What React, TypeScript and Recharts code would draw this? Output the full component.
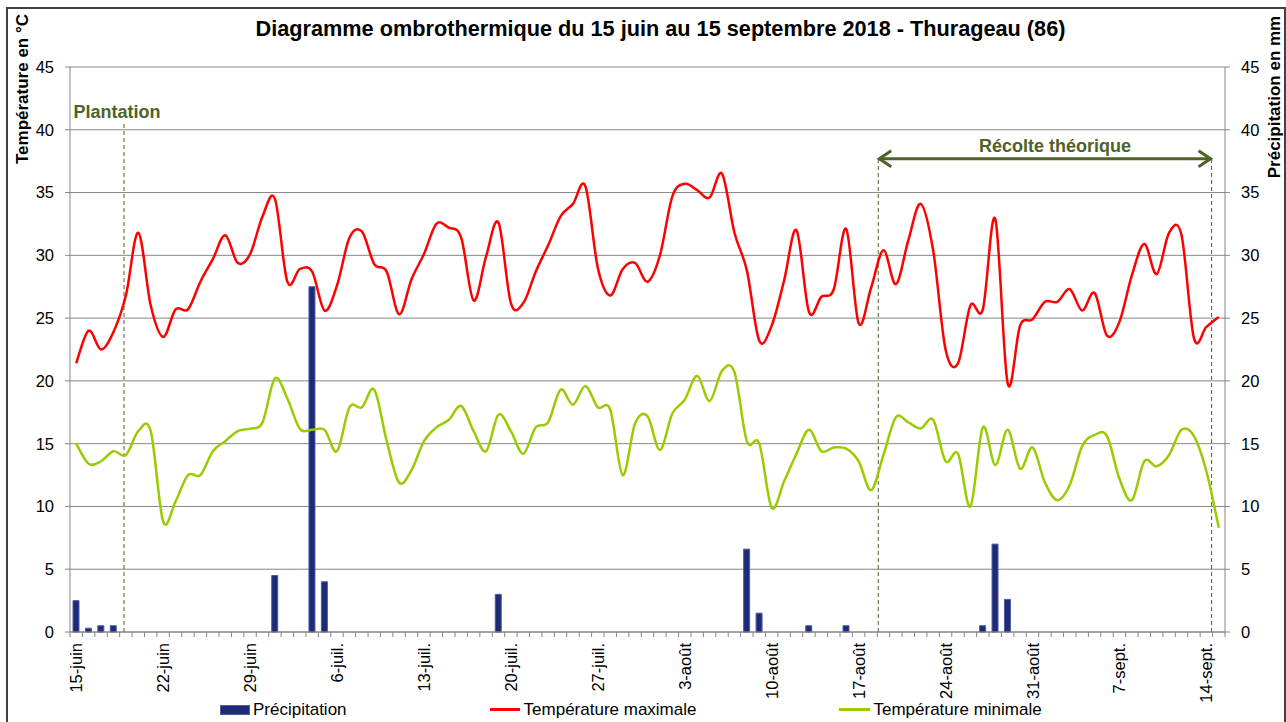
import React from "react";
import {
  ComposedChart,
  Bar,
  Line,
  XAxis,
  YAxis,
  CartesianGrid,
  Legend,
  ReferenceLine,
} from "recharts";

const FONT = "'Liberation Sans', Arial, sans-serif";
const GRID = "#868686";
const OLIVE = "#4F6228";
const RED = "#FF0000";
const GREEN = "#99CC00";
const BAR_FILL = "#1D2B74";
const BAR_EDGE = "#4E5BAA";

// days from 15 June to 15 September 2018
const months: [string, number, number][] = [
  ["juin", 15, 30],
  ["juil.", 1, 31],
  ["août", 1, 31],
  ["sept.", 1, 15],
];
const days: string[] = months.flatMap(([m, a, b]) =>
  Array.from({ length: b - a + 1 }, (_, k) => `${a + k}-${m}`)
);

// precipitation, mm
const precip = [
  2.5, 0.3, 0.5, 0.5, 0, 0, 0, 0, 0, 0, 0, 0, 0, 0, 0, 0, 4.5, 0, 0, 27.5,
  4.0, 0, 0, 0, 0, 0, 0, 0, 0, 0, 0, 0, 0, 0, 3.0, 0, 0, 0, 0, 0,
  0, 0, 0, 0, 0, 0, 0, 0, 0, 0, 0, 0, 0, 0, 6.6, 1.5, 0, 0, 0, 0.5,
  0, 0, 0.5, 0, 0, 0, 0, 0, 0, 0, 0, 0, 0, 0.5, 7.0, 2.6, 0, 0, 0, 0,
  0, 0, 0, 0, 0, 0, 0, 0, 0, 0, 0, 0, 0,
];

// maximum temperature, °C
const tmax = [
  21.4, 24.0, 22.5, 23.9, 26.8, 31.8, 26.0, 23.5, 25.7, 25.7,
  27.9, 29.7, 31.6, 29.4, 30.1, 33.1, 34.5, 27.9, 28.9, 28.7,
  25.6, 27.6, 31.4, 31.9, 29.3, 28.7, 25.3, 28.1, 30.1, 32.5,
  32.2, 31.4, 26.4, 29.9, 32.6, 26.2, 26.2, 28.7, 30.8, 33.1,
  34.1, 35.5, 29.0, 26.8, 28.9, 29.4, 27.9, 30.0, 34.7, 35.7,
  35.2, 34.6, 36.5, 31.8, 28.8, 23.2, 24.4, 28.0, 32.0, 25.5,
  26.7, 27.3, 32.1, 24.6, 27.4, 30.4, 27.7, 31.2, 34.1, 30.4,
  22.5, 21.4, 26.0, 25.7, 32.9, 19.8, 24.4, 24.9, 26.3, 26.3,
  27.3, 25.6, 27.0, 23.6, 24.7, 28.4, 30.9, 28.5, 31.8, 31.6,
  23.4, 24.3, 25.1,
];

// minimum temperature, °C
const tmin = [
  15.0, 13.4, 13.6, 14.4, 14.1, 16.0, 16.0, 8.8, 10.4, 12.5,
  12.5, 14.4, 15.2, 16.0, 16.2, 16.7, 20.2, 18.6, 16.2, 16.1,
  16.1, 14.4, 17.9, 17.9, 19.3, 15.2, 11.9, 12.9, 15.2, 16.3,
  16.9, 18.0, 16.0, 14.4, 17.3, 16.0, 14.2, 16.3, 16.7, 19.3,
  18.1, 19.6, 17.9, 17.7, 12.5, 16.6, 17.2, 14.5, 17.4, 18.5,
  20.4, 18.4, 20.8, 20.7, 15.2, 15.0, 9.9, 12.0, 14.2, 16.1,
  14.4, 14.7, 14.6, 13.6, 11.3, 14.1, 17.1, 16.7, 16.2, 16.9,
  13.6, 14.2, 10.0, 16.3, 13.3, 16.1, 13.0, 14.7, 11.9, 10.5,
  11.7, 14.8, 15.7, 15.6, 12.2, 10.5, 13.6, 13.2, 14.1, 16.1,
  15.6, 12.8, 8.3,
];

const yTicks = [0, 5, 10, 15, 20, 25, 30, 35, 40, 45];

// annotation positions (day index on the hidden numeric axis, °C on left axis)
const PLANTATION_X = 3.85;
const PLANTATION_TOP = 40.6;
const HARVEST_START = 64.58;
const HARVEST_END = 91.42;
const HARVEST_Y = 37.7;

const data = days.map((day, i) => ({
  idx: i,
  day,
  precip: precip[i],
  tmax: tmax[i],
  tmin: tmin[i],
}));

// Excel-like smoothed line (Bezier through every point)
const excelSmooth = (context: any) => {
  let pts: [number, number][] = [];
  return {
    areaStart() {},
    areaEnd() {},
    lineStart() {
      pts = [];
    },
    point(x: number, y: number) {
      pts.push([+x, +y]);
    },
    lineEnd() {
      const n = pts.length;
      if (!n) return;
      context.moveTo(pts[0][0], pts[0][1]);
      for (let i = 0; i < n - 1; i++) {
        const p0 = pts[Math.max(i - 1, 0)];
        const p1 = pts[i];
        const p2 = pts[i + 1];
        const p3 = pts[Math.min(i + 2, n - 1)];
        context.bezierCurveTo(
          p1[0] + (p2[0] - p0[0]) / 6,
          p1[1] + (p2[1] - p0[1]) / 6,
          p2[0] - (p3[0] - p1[0]) / 6,
          p2[1] - (p3[1] - p1[1]) / 6,
          p2[0],
          p2[1]
        );
      }
    },
  };
};

const PLOT_W = 1155;
const BAND_HALF = PLOT_W / days.length / 2;

const DayTick = (props: any) => {
  const { x, y, payload, index } = props;
  const half = payload?.offset || BAND_HALF;
  const axisY = y - 11;
  return (
    <g>
      <line x1={x - half} x2={x - half} y1={axisY} y2={axisY + 5} stroke={GRID} />
      {index === days.length - 1 && (
        <line x1={x + half} x2={x + half} y1={axisY} y2={axisY + 5} stroke={GRID} />
      )}
      {index % 7 === 0 && (
        <text
          x={x}
          y={y}
          transform={`rotate(-90 ${x} ${y})`}
          textAnchor="end"
          dominantBaseline="central"
          fontFamily={FONT}
          fontSize={16.5}
          fill="#000"
        >
          {payload.value}
        </text>
      )}
    </g>
  );
};

const PlantationShape = (p: any) => (
  <g>
    <line x1={p.x1} y1={p.y1} x2={p.x2} y2={p.y2} stroke={OLIVE} strokeWidth={1} strokeDasharray="4 3" />
    <text
      x={p.x1 - 7}
      y={Math.min(p.y1, p.y2) - 4}
      textAnchor="middle"
      fontFamily={FONT}
      fontWeight="bold"
      fontSize={18}
      fill={OLIVE}
    >
      Plantation
    </text>
  </g>
);

const DashedShape = (p: any) => (
  <line x1={p.x1} y1={p.y1} x2={p.x2} y2={p.y2} stroke={OLIVE} strokeWidth={1} strokeDasharray="4 3" />
);

const ArrowShape = (p: any) => {
  const y = p.y1;
  const a = Math.min(p.x1, p.x2);
  const b = Math.max(p.x1, p.x2);
  return (
    <g>
      <line x1={a + 1} y1={y} x2={b - 1} y2={y} stroke={OLIVE} strokeWidth={3} />
      <polyline
        points={`${a + 13},${y - 8} ${a + 1},${y} ${a + 13},${y + 8}`}
        fill="none"
        stroke={OLIVE}
        strokeWidth={3}
      />
      <polyline
        points={`${b - 13},${y - 8} ${b - 1},${y} ${b - 13},${y + 8}`}
        fill="none"
        stroke={OLIVE}
        strokeWidth={3}
      />
      <text
        x={(a + b) / 2 + 10}
        y={y - 7}
        textAnchor="middle"
        fontFamily={FONT}
        fontWeight="bold"
        fontSize={18}
        fill={OLIVE}
      >
        Récolte théorique
      </text>
    </g>
  );
};

const LegendContent = () => (
  <div
    style={{
      height: 25,
      display: "flex",
      alignItems: "center",
      paddingLeft: 212,
      gap: 143,
      fontFamily: FONT,
      fontSize: 17,
      color: "#000",
      whiteSpace: "nowrap",
    }}
  >
    <span style={{ display: "flex", alignItems: "center" }}>
      <span
        style={{
          width: 30,
          height: 10,
          background: BAR_FILL,
          border: `1px solid ${BAR_EDGE}`,
          boxSizing: "border-box",
          marginRight: 3,
        }}
      />
      Précipitation
    </span>
    <span style={{ display: "flex", alignItems: "center" }}>
      <span style={{ width: 30, height: 3, background: RED, marginRight: 4 }} />
      Température maximale
    </span>
    <span style={{ display: "flex", alignItems: "center" }}>
      <span style={{ width: 31, height: 3, background: GREEN, marginRight: 3 }} />
      Température minimale
    </span>
  </div>
);

const tickStyle = { fontSize: 16.5, fill: "#000", fontFamily: FONT };

export default function App() {
  return (
    <div
      style={{
        position: "fixed",
        left: 0,
        top: 0,
        width: 1286,
        height: 722,
        overflow: "hidden",
        background: "#fff",
      }}
    >
      <div
        style={{
          position: "absolute",
          left: 6,
          top: 7,
          width: 1280,
          height: 740,
          border: "2px solid #404040",
          boxSizing: "border-box",
        }}
      />
      <div style={{ position: "absolute", left: 8, top: 8 }}>
        <ComposedChart
          width={1276}
          height={714}
          data={data}
          margin={{ top: 59, right: 0, bottom: 0, left: 0 }}
        >
          <CartesianGrid xAxisId="d" yAxisId="t" horizontal vertical={false} stroke={GRID} />
          <XAxis
            xAxisId="d"
            dataKey="day"
            type="category"
            interval={0}
            height={65}
            tick={<DayTick />}
            tickLine={false}
            tickSize={5}
            tickMargin={6}
            axisLine={{ stroke: GRID }}
          />
          <XAxis
            xAxisId="n"
            dataKey="idx"
            type="number"
            domain={[0, days.length - 1]}
            padding={{ left: BAND_HALF, right: BAND_HALF }}
            hide
            allowDataOverflow
          />
          <YAxis
            yAxisId="t"
            orientation="left"
            width={62}
            domain={[0, 45]}
            ticks={yTicks}
            interval={0}
            tick={tickStyle}
            tickSize={5}
            tickMargin={11}
            tickLine={{ stroke: GRID }}
            axisLine={{ stroke: GRID }}
          />
          <YAxis
            yAxisId="p"
            orientation="right"
            width={59}
            domain={[0, 45]}
            ticks={yTicks}
            interval={0}
            tick={tickStyle}
            tickSize={5}
            tickMargin={11}
            tickLine={{ stroke: GRID }}
            axisLine={{ stroke: GRID }}
          />
          <Legend verticalAlign="bottom" height={25} content={() => <LegendContent />} />
          <ReferenceLine
            xAxisId="n"
            yAxisId="t"
            segment={[
              { x: PLANTATION_X, y: 0 },
              { x: PLANTATION_X, y: PLANTATION_TOP },
            ]}
            shape={PlantationShape}
          />
          <ReferenceLine
            xAxisId="n"
            yAxisId="t"
            segment={[
              { x: HARVEST_START, y: 0 },
              { x: HARVEST_START, y: HARVEST_Y },
            ]}
            shape={DashedShape}
          />
          <ReferenceLine
            xAxisId="n"
            yAxisId="t"
            segment={[
              { x: HARVEST_END, y: 0 },
              { x: HARVEST_END, y: HARVEST_Y },
            ]}
            shape={DashedShape}
          />
          <ReferenceLine
            xAxisId="n"
            yAxisId="t"
            segment={[
              { x: HARVEST_START, y: HARVEST_Y },
              { x: HARVEST_END, y: HARVEST_Y },
            ]}
            shape={ArrowShape}
          />
          <Bar
            xAxisId="d"
            yAxisId="p"
            dataKey="precip"
            name="Précipitation"
            barSize={6}
            fill={BAR_FILL}
            stroke={BAR_EDGE}
            strokeWidth={1}
            isAnimationActive={false}
          />
          <Line
            xAxisId="d"
            yAxisId="t"
            dataKey="tmax"
            name="Température maximale"
            type={excelSmooth as any}
            stroke={RED}
            strokeWidth={2.5}
            dot={false}
            activeDot={false}
            isAnimationActive={false}
          />
          <Line
            xAxisId="d"
            yAxisId="t"
            dataKey="tmin"
            name="Température minimale"
            type={excelSmooth as any}
            stroke={GREEN}
            strokeWidth={2.5}
            dot={false}
            activeDot={false}
            isAnimationActive={false}
          />
        </ComposedChart>
        <svg
          width={1276}
          height={714}
          style={{ position: "absolute", left: 0, top: 0, pointerEvents: "none" }}
        >
          <text
            x={652.5}
            y={27.7}
            textAnchor="middle"
            fontFamily={FONT}
            fontWeight="bold"
            fontSize={21.7}
            fill="#000"
          >
            Diagramme ombrothermique du 15 juin au 15 septembre 2018 - Thurageau (86)
          </text>
          <text
            x={19.7}
            y={81}
            transform="rotate(-90 19.7 81)"
            textAnchor="middle"
            fontFamily={FONT}
            fontWeight="bold"
            fontSize={17}
            fill="#000"
          >
            Température en °C
          </text>
          <text
            x={1272}
            y={89}
            transform="rotate(-90 1272 89)"
            textAnchor="middle"
            fontFamily={FONT}
            fontWeight="bold"
            fontSize={17}
            fill="#000"
          >
            Précipitation en mm
          </text>
        </svg>
      </div>
    </div>
  );
}
